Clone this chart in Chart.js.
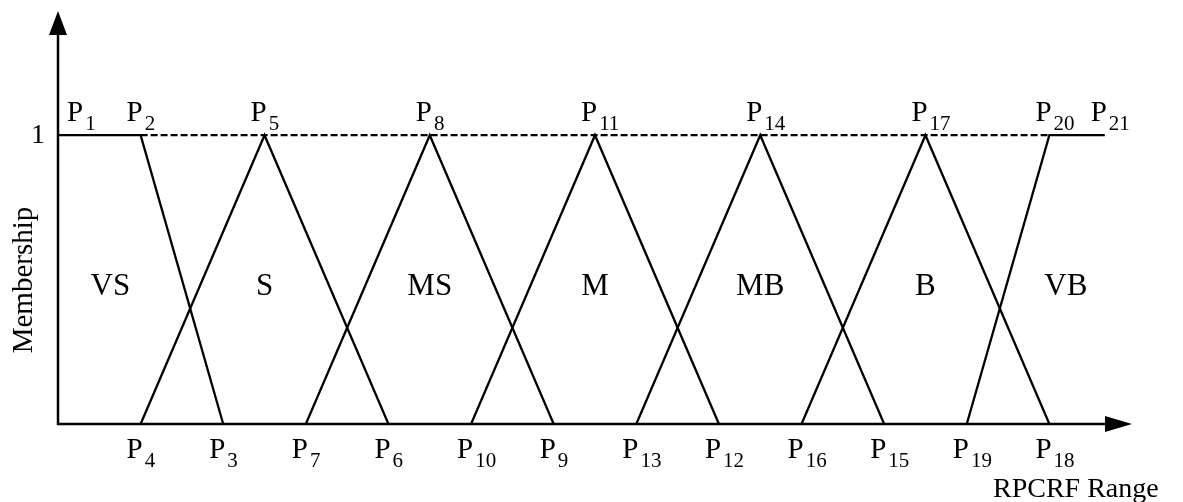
<!DOCTYPE html>
<html>
<head>
<meta charset="utf-8">
<script src="https://cdn.jsdelivr.net/npm/chart.js@4/dist/chart.umd.min.js"></script>
<style>
html,body{margin:0;padding:0;background:#fff;}
#wrap{width:1183px;height:502px;position:relative;}
</style>
</head>
<body>
<div id="wrap"><canvas id="c" width="1183" height="502"></canvas></div>
<script>
// ---- Data ----
const categories = ['VS', 'S', 'MS', 'M', 'MB', 'B', 'VB'];
const pointNames = ['P1','P2','P3','P4','P5','P6','P7','P8','P9','P10','P11','P12','P13','P14','P15','P16','P17','P18','P19','P20','P21'];
const pointX = [0, 1, 2, 1, 2.5, 4, 3, 4.5, 6, 5, 6.5, 8, 7, 8.5, 10, 9, 10.5, 12, 11, 12, 12.67];
const pointY = [1, 1, 0, 0, 1, 0, 0, 1, 0, 0, 1, 0, 0, 1, 0, 0, 1, 0, 0, 1, 1];
// membership functions as lists of point names
const setPoints = [
  ['P1','P2','P3'],
  ['P4','P5','P6'],
  ['P7','P8','P9'],
  ['P10','P11','P12'],
  ['P13','P14','P15'],
  ['P16','P17','P18'],
  ['P19','P20','P21']
];
const dashedPoints = ['P2', 'P20'];
const yTickLabel = '1';
const yTitle = 'Membership';
const xTitle = 'RPCRF Range';
const xMax = 13;
const yMax = 1.43;

function pt(name) {
  const i = pointNames.indexOf(name);
  return { x: pointX[i], y: pointY[i] };
}

const datasets = setPoints.map((names, k) => ({
  label: categories[k],
  data: names.map(pt),
  showLine: true,
  borderColor: '#000',
  borderWidth: 2.3,
  pointRadius: 0,
  tension: 0,
  fill: false
}));
datasets.push({
  label: 'dash',
  data: dashedPoints.map(pt),
  showLine: true,
  borderColor: '#000',
  borderWidth: 2.3,
  borderDash: [7, 3],
  pointRadius: 0,
  tension: 0,
  fill: false
});

const SERIF = '"Liberation Serif", "Times New Roman", serif';

// membership value of a set (piecewise linear through its points) at x
function memb(p, x) {
  if (x < p[0].x || x > p[p.length - 1].x) return 0;
  for (let j = 0; j < p.length - 1; j++) {
    const a = p[j], b = p[j + 1];
    if (x >= a.x && x <= b.x) {
      if (b.x === a.x) return Math.max(a.y, b.y);
      return a.y + (b.y - a.y) * (x - a.x) / (b.x - a.x);
    }
  }
  return 0;
}

const decor = {
  id: 'decor',
  afterDraw(chart) {
    const ctx = chart.ctx;
    const a = chart.chartArea;
    const xs = chart.scales.x, ys = chart.scales.y;
    const x0 = xs.getPixelForValue(0), y0 = ys.getPixelForValue(0);
    ctx.save();
    ctx.strokeStyle = '#000';
    ctx.fillStyle = '#000';
    ctx.lineWidth = 2.5;
    // y axis
    ctx.beginPath();
    ctx.moveTo(x0, y0 + 1);
    ctx.lineTo(x0, a.top + 22);
    ctx.stroke();
    ctx.beginPath();
    ctx.moveTo(x0, a.top);
    ctx.lineTo(x0 - 9, a.top + 24);
    ctx.lineTo(x0 + 9, a.top + 24);
    ctx.closePath();
    ctx.fill();
    // x axis
    ctx.beginPath();
    ctx.moveTo(x0 - 1, y0);
    ctx.lineTo(a.right - 25, y0);
    ctx.stroke();
    ctx.beginPath();
    ctx.moveTo(a.right, y0);
    ctx.lineTo(a.right - 27, y0 - 8);
    ctx.lineTo(a.right - 27, y0 + 8);
    ctx.closePath();
    ctx.fill();

    // y tick label "1"
    ctx.font = '28px ' + SERIF;
    ctx.textAlign = 'center';
    ctx.textBaseline = 'alphabetic';
    ctx.fillText(yTickLabel, x0 - 20, ys.getPixelForValue(1) + 8);

    // y title
    ctx.save();
    ctx.translate(x0 - 34, 280);
    ctx.rotate(-Math.PI / 2);
    ctx.font = '29px ' + SERIF;
    ctx.textAlign = 'center';
    ctx.textBaseline = 'middle';
    ctx.fillText(yTitle, 0, 0);
    ctx.restore();

    // x title
    ctx.font = '28px ' + SERIF;
    ctx.textAlign = 'left';
    ctx.textBaseline = 'alphabetic';
    ctx.fillText(xTitle, 993, 497);

    // point labels
    pointNames.forEach((nm, i) => {
      const px = xs.getPixelForValue(pointX[i]);
      const py = ys.getPixelForValue(pointY[i]);
      const left = Math.max(px - 14, a.left + 9);
      const base = pointY[i] >= 1 ? py - 14 : py + 34;
      ctx.font = '29px ' + SERIF;
      ctx.textAlign = 'left';
      ctx.fillText('P', left, base);
      const w = ctx.measureText('P').width;
      ctx.font = '21px ' + SERIF;
      ctx.fillText(nm.slice(1), left + w + 2, base + 9);
    });

    // category labels at centroid of the upper half (membership >= 0.5) of each set
    ctx.font = '31px ' + SERIF;
    ctx.textAlign = 'center';
    ctx.textBaseline = 'middle';
    setPoints.forEach((names, k) => {
      const p = names.map(pt);
      const lo = p[0].x, hi = p[p.length - 1].x;
      let sw = 0, sx = 0;
      const N = 2000;
      for (let s = 0; s <= N; s++) {
        const x = lo + (hi - lo) * s / N;
        const f = memb(p, x) - 0.5;
        if (f > 0) { sw += f; sx += f * x; }
      }
      const cx = sx / sw;
      ctx.fillText(categories[k], xs.getPixelForValue(cx), ys.getPixelForValue(0.475));
    });
    ctx.restore();
  }
};

new Chart(document.getElementById('c'), {
  type: 'scatter',
  data: { datasets },
  options: {
    responsive: false,
    animation: false,
    events: [],
    layout: { padding: { left: 58, right: 51, top: 11, bottom: 78 } },
    plugins: { legend: { display: false }, tooltip: { enabled: false } },
    scales: {
      x: { type: 'linear', min: 0, max: xMax, display: false },
      y: { type: 'linear', min: 0, max: yMax, display: false }
    }
  },
  plugins: [decor]
});
</script>
</body>
</html>
